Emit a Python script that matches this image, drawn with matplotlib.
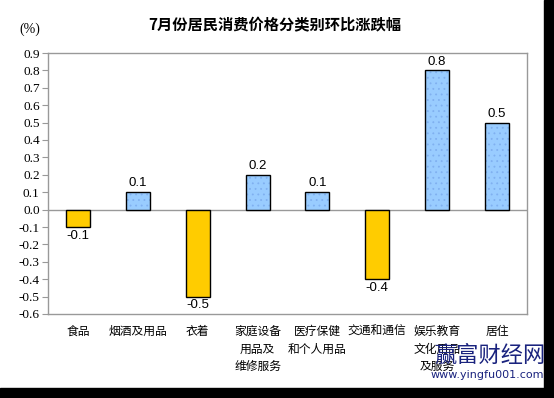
import matplotlib
matplotlib.use("Agg")
import matplotlib.pyplot as plt
from matplotlib.patches import Rectangle

# 数据
categories = ["食品", "烟酒及用品", "衣着", "家庭设备\n用品及\n维修服务",
              "医疗保健\n和个人用品", "交通和通信", "娱乐教育\n文化用品\n及服务", "居住"]
values = [-0.1, 0.1, -0.5, 0.2, 0.1, -0.4, 0.8, 0.5]
yticks = [0.9, 0.8, 0.7, 0.6, 0.5, 0.4, 0.3, 0.2, 0.1, 0.0,
          -0.1, -0.2, -0.3, -0.4, -0.5, -0.6]
title = "7月份居民消费价格分类别环比涨跌幅"

CJK = ["Noto Sans CJK SC", "DejaVu Sans"]
C_POS = "#99ccff"
C_NEG = "#ffcc00"
W, H = 554, 398
plt.rcParams["hatch.linewidth"] = 0.6

fig = plt.figure(figsize=(W / 100, H / 100), dpi=100)
fig.patch.set_facecolor("white")
ax = fig.add_axes([48 / W, 1 - 314 / H, (527 - 48) / W, (314 - 53) / H])

x = list(range(len(values)))
# 填充 + 点状纹理, 然后黑色边框
for xi, v in zip(x, values):
    if v >= 0:
        ax.bar(xi, v, width=0.4, color=C_POS, edgecolor="#80b0f0",
               linewidth=0, hatch="...", zorder=2)
    else:
        ax.bar(xi, v, width=0.4, color=C_NEG, linewidth=0, zorder=2)
ax.bar(x, values, width=0.4, facecolor="none", edgecolor="black",
       linewidth=1.0, zorder=3)

for xi, v in zip(x, values):
    off, va = (2, "bottom") if v >= 0 else (-2, "top")
    ax.annotate(f"{v:.1f}", (xi, v), xytext=(0, off), textcoords="offset points",
                ha="center", va=va, fontsize=9.5, family="Liberation Sans")

ax.axhline(0, color="#999999", linewidth=1, zorder=1)
ax.set_xlim(-0.5, len(values) - 0.5)
ax.set_ylim(-0.6, 0.9)
ax.set_yticks(yticks)
ax.set_yticklabels([f"{t:.1f}" for t in yticks], family="Liberation Serif", fontsize=9.5)
ax.tick_params(axis="y", direction="out", length=4, width=0.8, color="#999999", pad=2)
ax.set_xticks(x)
ax.set_xticklabels(categories, family=CJK, fontsize=8.5, linespacing=1.45)
ax.tick_params(axis="x", length=0, pad=8)
for s in ax.spines.values():
    s.set_color("#999999")
    s.set_linewidth(1)

fig.text(275 / W, 1 - 25 / H, title, ha="center", va="center",
         family=CJK, fontsize=11, fontweight="bold")
fig.text(30 / W, 1 - 29 / H, "(%)", ha="center", va="center",
         family="Liberation Serif", fontsize=10)

# 水印
fig.text(490 / W, 1 - 355 / H, "赢富财经网", ha="center", va="center",
         family=CJK, fontsize=16, color="#1a237e", zorder=10)
fig.text(487 / W, 1 - 375 / H, "www.yingfu001.com", ha="center", va="center",
         family="DejaVu Sans", fontsize=8, color="#1a237e", zorder=10)

# 右侧和底部黑边
fig.patches.append(Rectangle((544 / W, 0), 10 / W, 1, transform=fig.transFigure,
                             color="black", zorder=20))
fig.patches.append(Rectangle((0, 0), 1, 10 / H, transform=fig.transFigure,
                             color="black", zorder=20))

fig.savefig("out.png", dpi=100)
